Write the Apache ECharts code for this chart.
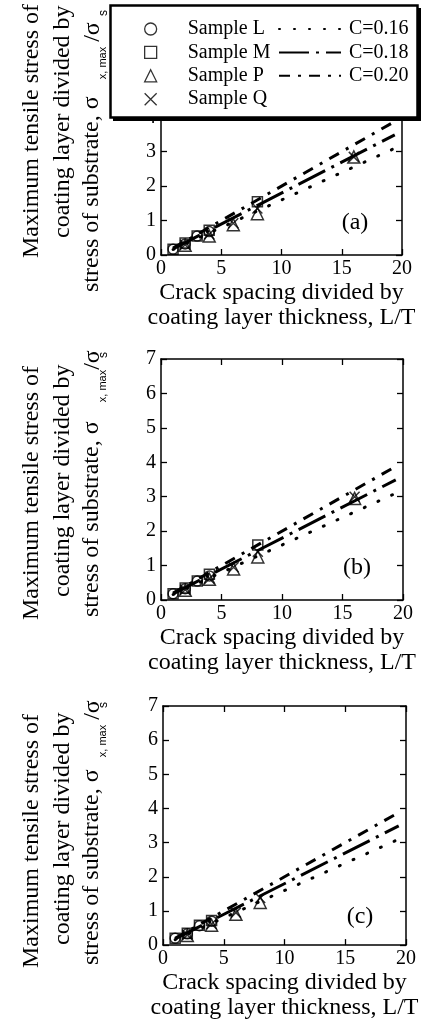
<!DOCTYPE html>
<html><head><meta charset="utf-8">
<script src="https://cdn.jsdelivr.net/npm/echarts@6/dist/echarts.min.js"></script>
<style>html,body{margin:0;padding:0;background:#fff}#c{width:423px;height:1021px}</style>
</head><body><div id="c"></div>
<script>
// ---- data ----
const xTicks = [0, 5, 10, 15, 20];
const yTicks = [0, 1, 2, 3, 4, 5, 6, 7];
const panelLabels = ['(a)', '(b)', '(c)'];
const sampleNames = ['Sample L', 'Sample M', 'Sample P', 'Sample Q'];
const lineNames = ['C=0.16', 'C=0.18', 'C=0.20'];
const lineC016 = [[1, 0.16], [19.4, 3.10]];
const lineC018 = [[1, 0.18], [19.4, 3.49]];
const lineC020 = [[1, 0.20], [19.4, 3.88]];
// panel (a)
const aL = [[1, 0.17], [2, 0.32], [3, 0.55], [4, 0.68]];
const aM = [[1, 0.17], [2, 0.35], [3, 0.55], [4, 0.72], [8, 1.55]];
const aP = [[2, 0.28], [4, 0.55], [6, 0.88], [8, 1.2], [16, 2.85]];
const aQ = [[2, 0.30], [4, 0.60], [6, 0.92], [8, 1.35], [16, 2.85]];
// panel (b)
const bL = [[1, 0.18], [2, 0.33], [3, 0.55], [4, 0.70]];
const bM = [[1, 0.18], [2, 0.35], [3, 0.55], [4, 0.75], [8, 1.60]];
const bP = [[2, 0.28], [4, 0.60], [6, 0.90], [8, 1.25], [16, 2.95]];
const bQ = [[2, 0.30], [4, 0.62], [6, 0.95], [8, 1.40], [16, 3.00]];
// panel (c)
const cL = [[1, 0.20], [2, 0.33], [3, 0.57], [4, 0.70]];
const cM = [[1, 0.20], [2, 0.35], [3, 0.58], [4, 0.72]];
const cP = [[2, 0.28], [4, 0.58], [6, 0.90], [8, 1.25]];
const cQ = [[2, 0.30], [4, 0.62], [6, 0.95], [8, 1.38]];

const panelData = [[aL, aM, aP, aQ], [bL, bM, bP, bQ], [cL, cM, cP, cQ]];
const lineData = [lineC016, lineC018, lineC020];

// ---- styles ----
const SERIF = 'Liberation Serif, Times New Roman, serif';
const grids = [
  { left: 161, top: 14, width: 241, height: 241 },
  { left: 161, top: 359, width: 242, height: 241 },
  { left: 163, top: 706, width: 243, height: 242 }
];
const nameGaps = [17, 22, 20];
const symbols = ['circle', 'rect', 'triangle', 'path://M0,0L10,10M10,0L0,10'];
const symSizes = [10, 10, 12, 10];
const lineTypes = [[1, 14], [30, 7, 3, 7], [11, 8, 3, 8]];

const option = { animation: false, backgroundColor: '#fff', color: ['#000'], grid: [], xAxis: [], yAxis: [], series: [], graphic: [] };

grids.forEach((g, i) => {
  option.grid.push(g);
  const axLine = { show: true, onZero: false, lineStyle: { color: '#000', width: 1.5 } };
  const tick = { show: true, inside: true, length: 6, lineStyle: { color: '#000', width: 1.3 } };
  option.xAxis.push({
    type: 'value', gridIndex: i, min: xTicks[0], max: xTicks[xTicks.length - 1], interval: 5,
    axisLine: axLine, axisTick: tick, splitLine: { show: false },
    axisLabel: { color: '#000', fontSize: 20, fontFamily: SERIF, margin: 4 },
    name: 'Crack spacing divided by\ncoating layer thickness, L/T', nameLocation: 'middle', nameGap: nameGaps[i],
    nameTextStyle: { color: '#000', fontSize: 24, lineHeight: 25, fontFamily: SERIF }
  });
  option.xAxis.push({
    type: 'value', gridIndex: i, position: 'top', min: 0, max: 20, interval: 5,
    axisLine: axLine, axisTick: tick, splitLine: { show: false }, axisLabel: { show: false }
  });
  option.yAxis.push({
    type: 'value', gridIndex: i, min: yTicks[0], max: yTicks[yTicks.length - 1], interval: 1,
    axisLine: axLine, axisTick: tick, splitLine: { show: false },
    axisLabel: { color: '#000', fontSize: 20, fontFamily: SERIF, margin: 5 }
  });
  option.yAxis.push({
    type: 'value', gridIndex: i, position: 'right', min: 0, max: 7, interval: 1,
    axisLine: axLine, axisTick: tick, splitLine: { show: false }, axisLabel: { show: false }
  });
  lineData.forEach((d, k) => {
    option.series.push({
      type: 'line', name: lineNames[k], xAxisIndex: 2 * i, yAxisIndex: 2 * i, data: d,
      symbol: 'none', z: 2,
      itemStyle: { color: '#000' },
      lineStyle: { color: '#000', width: 3, type: lineTypes[k], cap: k === 0 ? 'round' : 'butt' }
    });
  });
  panelData[i].forEach((d, k) => {
    option.series.push({
      type: 'scatter', name: sampleNames[k], xAxisIndex: 2 * i, yAxisIndex: 2 * i, data: d,
      symbol: symbols[k], symbolSize: symSizes[k], z: 3,
      itemStyle: { color: 'rgba(255,255,255,0)', borderColor: '#000', borderWidth: 1.5 }
    });
  });
});

// legend
option.legend = [
  {
    orient: 'vertical', left: 144, top: 19, padding: 0, itemGap: 3.4, z: 20,
    itemWidth: 12, itemHeight: 12,
    data: sampleNames.map((n, k) => ({ name: n, icon: symbols[k] })),
    itemStyle: { color: 'rgba(255,255,255,0)', borderColor: '#000', borderWidth: 1.3 },
    textStyle: { color: '#000', fontSize: 20, lineHeight: 20, fontFamily: SERIF, padding: [0, 0, 0, 26] },
    selectedMode: false
  },
  {
    orient: 'vertical', left: 278, top: 19, padding: 0, itemGap: 3.4, z: 20,
    itemWidth: 62, itemHeight: 14,
    data: lineNames,
    itemStyle: { opacity: 0 },
    lineStyle: { color: '#000' },
    textStyle: { color: '#000', fontSize: 20, lineHeight: 20, fontFamily: SERIF, padding: [0, 0, 0, 3] },
    selectedMode: false
  }
];

// legend box
option.graphic.push({ type: 'rect', z: 10, shape: { x: 113, y: 8, width: 308, height: 113 }, style: { fill: '#000' } });
option.graphic.push({ type: 'rect', z: 11, shape: { x: 110.5, y: 5.5, width: 307, height: 112 }, style: { fill: '#fff', stroke: '#000', lineWidth: 2.5 } });

// panel labels
const labelPos = [[355, 223], [357, 568], [360, 917]];
panelLabels.forEach((t, i) => {
  option.graphic.push({ type: 'text', z: 5, x: labelPos[i][0], y: labelPos[i][1],
    style: { text: t, font: '24px ' + SERIF, fill: '#000', textAlign: 'center', textVerticalAlign: 'middle' } });
});

// y titles
const yTitle = [
  // [line1 start, line2 start, line3 start, sub centre, slash centre, s centre]
  [258, 238, 292, 63, 32, 13],
  [620, 597, 617, 386, 360, 355],
  [968, 945, 965, 741, 710, 705]
];
const rot = Math.PI / 2;
yTitle.forEach((p) => {
  const T = (x, y, text, font, align) => option.graphic.push({ type: 'text', z: 5, x, y, rotation: rot,
    style: { text, font, fill: '#000', textAlign: align, textVerticalAlign: 'middle' } });
  T(32, p[0], 'Maximum tensile stress of', '24px ' + SERIF, 'left');
  T(63, p[1], 'coating layer divided by', '24px ' + SERIF, 'left');
  T(92, p[2], 'stress of substrate, \u03c3', '24px ' + SERIF, 'left');
  T(103, p[3], 'x, max', '11px Liberation Sans, Arial, sans-serif', 'center');
  T(93, p[4], '/\u03c3', '24px ' + SERIF, 'center');
  T(104, p[5], 's', '12px Liberation Sans, Arial, sans-serif', 'center');
});

const chart = echarts.init(document.getElementById('c'), null, { renderer: 'canvas' });
chart.setOption(option);
</script>
</body></html>
